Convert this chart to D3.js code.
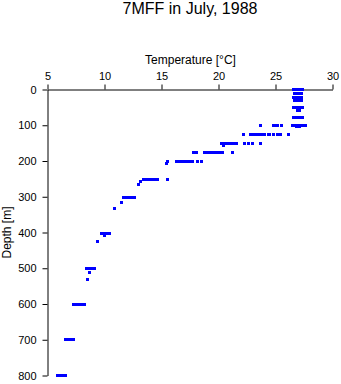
<!DOCTYPE html>
<html>
<head>
<meta charset="utf-8">
<script src="https://cdn.jsdelivr.net/npm/d3@7"></script>
<style>
  html, body { margin: 0; padding: 0; background: #fff; }
  svg { display: block; }
  text { font-family: "Liberation Sans", Arial, Helvetica, sans-serif; fill: #000; }
</style>
</head>
<body>
<svg id="chart" width="341" height="384"></svg>
<script>
// ---- data ----
const title = "7MFF in July, 1988";
const xLabel = "Temperature [°C]";
const yLabel = "Depth [m]";
const xTicks = [5, 10, 15, 20, 25, 30];
const yTicks = [0, 100, 200, 300, 400, 500, 600, 700, 800];

// depth (m) of each observed level
const depthLevels = [0, 12, 21, 31, 51, 59, 77, 101, 104, 126, 151, 157, 176, 201, 207,
                     251, 258, 266, 301, 315, 332, 402, 408, 425, 500, 511, 531, 600, 700, 800];
// temperatures (°C) observed at each level
const tempsAtLevel = [
  [26.55, 26.75, 26.95, 27.15, 27.35],
  [26.65, 26.85, 27.05, 27.25],
  [26.6, 26.8, 27.0, 27.2, 27.3],
  [26.65, 26.85, 27.05, 27.25],
  [26.6, 26.8, 27.0, 27.2, 27.4],
  [26.9, 27.1],
  [26.6, 26.8, 27.0, 27.2, 27.4],
  [23.7, 24.8, 25.0, 25.15, 25.5, 26.45, 26.65, 26.85, 27.05, 27.25, 27.45, 27.6],
  [26.85, 27.1],
  [22.2, 22.85, 23.05, 23.25, 23.45, 23.65, 23.85, 24.0, 24.35, 24.5, 24.85, 25.2, 25.45, 26.1],
  [20.3, 20.5, 20.7, 20.9, 21.1, 21.3, 21.55, 22.25, 22.6, 23.0, 23.7],
  [20.4],
  [17.85, 18.1, 18.8, 19.0, 19.2, 19.4, 19.6, 19.8, 20.0, 20.2, 20.35, 21.2],
  [15.55, 16.35, 16.55, 16.75, 16.95, 17.15, 17.35, 17.55, 17.75, 18.2, 18.55],
  [15.4],
  [13.4, 13.6, 13.8, 14.0, 14.2, 14.35, 14.65, 15.55],
  [13.2],
  [12.95],
  [11.7, 11.9, 12.1, 12.3, 12.5, 12.65],
  [11.5],
  [10.9],
  [9.7, 9.9, 10.1, 10.25, 10.4],
  [10.0],
  [9.4],
  [8.45, 8.65, 8.85, 9.05, 9.15],
  [8.7],
  [8.55],
  [7.3, 7.5, 7.7, 7.9, 8.1, 8.25],
  [6.55, 6.75, 6.95, 7.15, 7.3],
  [5.85, 6.05, 6.25, 6.45, 6.55]
];

// ---- chart ----
const svg = d3.select("#chart");
const x = d3.scaleLinear().domain([5, 30]).range([47.5, 332.5]);
const y = d3.scaleLinear().domain([0, 800]).range([89.5, 375.5]);

const points = [];
depthLevels.forEach((d, i) => tempsAtLevel[i].forEach(t => points.push({depth: d, temp: t})));

// title
svg.append("text")
  .attr("x", 190).attr("y", 14)
  .attr("text-anchor", "middle")
  .style("font-size", "16px")
  .text(title);

// x axis (top)
const xAxis = svg.append("g")
  .attr("transform", "translate(0,89.5)")
  .call(d3.axisTop(x).tickValues(xTicks).tickSize(5).tickSizeOuter(0).tickPadding(5));
xAxis.selectAll("text").style("font-size", "11px").style("font-family", "Liberation Sans, Arial, sans-serif");

// y axis (left)
const yAxis = svg.append("g")
  .attr("transform", "translate(47.5,0)")
  .call(d3.axisLeft(y).tickValues(yTicks).tickSize(5).tickSizeOuter(0).tickPadding(6));
yAxis.selectAll("text").style("font-size", "11px").style("font-family", "Liberation Sans, Arial, sans-serif");

svg.selectAll(".domain, .tick line").attr("stroke", "#000").attr("stroke-width", 1);

// axis titles
svg.append("text")
  .attr("x", 190.5).attr("y", 64)
  .attr("text-anchor", "middle")
  .style("font-size", "12px")
  .text(xLabel);

svg.append("text")
  .attr("transform", "translate(10.5,232.5) rotate(-90)")
  .attr("text-anchor", "middle")
  .style("font-size", "12px")
  .text(yLabel);

// data markers
svg.append("g")
  .selectAll("rect")
  .data(points)
  .join("rect")
  .attr("x", d => x(d.temp) - 1.5)
  .attr("y", d => y(d.depth) - 1.5)
  .attr("width", 3)
  .attr("height", 3)
  .attr("fill", "#0000ff")
  .attr("shape-rendering", "crispEdges");
</script>
</body>
</html>
